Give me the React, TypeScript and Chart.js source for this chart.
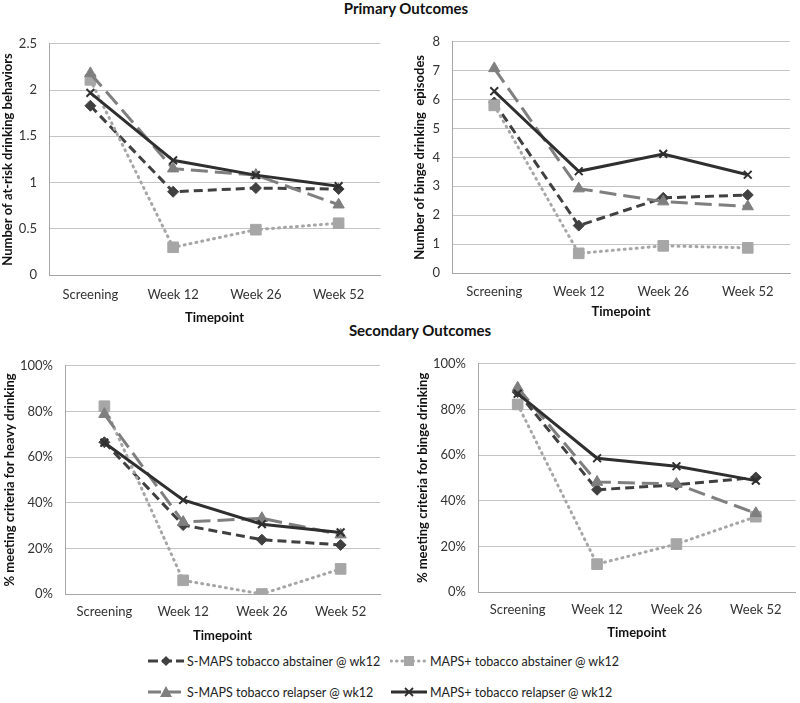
import React, { useEffect, useRef } from "react";
import { Chart, registerables } from "chart.js";
Chart.register(...registerables);

const timepoints = ["Screening", "Week 12", "Week 26", "Week 52"];
const seriesNames = [
  "S-MAPS tobacco abstainer @ wk12",
  "MAPS+ tobacco abstainer @ wk12",
  "S-MAPS tobacco relapser @ wk12",
  "MAPS+ tobacco relapser @ wk12",
];

// Panel 1: Number of at-risk drinking behaviors
const atRiskSmapsAbst = [1.83, 0.9, 0.94, 0.93];
const atRiskMapsAbst = [2.11, 0.3, 0.49, 0.56];
const atRiskSmapsRel = [2.18, 1.15, 1.08, 0.76];
const atRiskMapsRel = [1.97, 1.24, 1.08, 0.96];

// Panel 2: Number of binge drinking episodes
const bingeEpSmapsAbst = [5.9, 1.64, 2.6, 2.7];
const bingeEpMapsAbst = [5.8, 0.68, 0.94, 0.87];
const bingeEpSmapsRel = [7.08, 2.92, 2.47, 2.3];
const bingeEpMapsRel = [6.29, 3.52, 4.12, 3.4];

// Panel 3: % meeting criteria for heavy drinking
const heavySmapsAbst = [66.5, 30.2, 23.8, 21.5];
const heavyMapsAbst = [82.3, 6.0, 0, 11.0];
const heavySmapsRel = [78.8, 31.5, 33.2, 26.0];
const heavyMapsRel = [66.3, 41.2, 30.6, 27.0];

// Panel 4: % meeting criteria for binge drinking
const bingePctSmapsAbst = [87.6, 44.8, 47.0, 50.2];
const bingePctMapsAbst = [82.2, 12.2, 21.0, 33.0];
const bingePctSmapsRel = [89.5, 48.2, 47.3, 34.5];
const bingePctMapsRel = [86.9, 58.6, 55.1, 48.8];

const COLORS = ["#404040", "#a6a6a6", "#7f7f7f", "#2f2f2f"];
const STYLES: any[] = ["rectRot", "rect", "triangle", "crossRot"];
const RADII = [5.5, 7.5, 6.5, 5.5];
const DASHES = [[9, 5], [1, 5], [17, 7], []];
const FONT = "Lato, 'Open Sans', sans-serif";

function Panel(props: any) {
  const ref = useRef<HTMLCanvasElement>(null);
  useEffect(() => {
    const series = props.series as number[][];
    const datasets = series.map((vals, i) => ({
      label: seriesNames[i],
      data: vals,
      borderColor: COLORS[i],
      backgroundColor: COLORS[i],
      pointBackgroundColor: COLORS[i],
      pointBorderColor: COLORS[i],
      pointStyle: STYLES[i],
      pointRadius: RADII[i],
      pointBorderWidth: i === 3 ? 2 : 1,
      borderWidth: 3,
      borderDash: DASHES[i],
      borderCapStyle: i === 1 ? "round" : "butt",
      tension: 0,
      order: 3 - i,
    }));
    const chart = new Chart(ref.current!, {
      type: "line",
      data: { labels: timepoints, datasets },
      options: {
        animation: false,
        responsive: false,
        maintainAspectRatio: false,
        layout: { padding: { top: props.padTop, right: props.padRight, left: 0, bottom: 0 } },
        plugins: { legend: { display: false }, tooltip: { enabled: false } },
        scales: {
          x: {
            offset: true,
            grid: { display: true, drawOnChartArea: false, drawTicks: false },
            border: { display: true, color: "#a6a6a6", width: 1 },
            ticks: { color: "#333", font: { family: FONT, size: 13 }, padding: props.xTickPad, maxRotation: 0 },
            title: {
              display: true,
              text: "Timepoint",
              color: "#111",
              font: { family: FONT, size: 13, weight: "bold" },
              padding: { top: 4, bottom: 2 },
            },
            afterFit: (s: any) => { s.height = props.xAxisHeight; },
          },
          y: {
            min: 0,
            max: props.yMax,
            grid: { color: "#c4c4c4", drawTicks: false, lineWidth: 1 },
            border: { display: true, color: "#a6a6a6", width: 1 },
            ticks: {
              stepSize: props.yStep,
              color: "#333",
              padding: 12,
              font: { family: FONT, size: 13 },
              callback: (v: any) => (props.pct ? v + "%" : String(v)),
            },
            title: {
              display: true,
              text: props.yTitle,
              color: "#111",
              font: { family: FONT, size: 13, weight: "bold" },
              padding: { top: props.yTitlePad, bottom: 0 },
            },
            afterFit: (s: any) => { s.width = props.yAxisWidth; },
          },
        },
      },
    });
    return () => chart.destroy();
  }, []);
  return (
    <canvas
      ref={ref}
      width={props.width}
      height={props.height}
      style={{ position: "absolute", left: props.left, top: props.top, width: props.width, height: props.height }}
    />
  );
}

function LegendIcon({ i }: { i: number }) {
  const c = COLORS[i];
  const cx = 19, cy = 7;
  let marker: any = null;
  if (i === 0) marker = <polygon points={`${cx},${cy - 5} ${cx + 5},${cy} ${cx},${cy + 5} ${cx - 5},${cy}`} fill={c} />;
  if (i === 1) marker = <rect x={cx - 5} y={cy - 5} width={10} height={10} fill={c} />;
  if (i === 2) marker = <polygon points={`${cx},${cy - 6} ${cx + 6},${cy + 5} ${cx - 6},${cy + 5}`} fill={c} />;
  if (i === 3)
    marker = (
      <g stroke={c} strokeWidth={1.8}>
        <line x1={cx - 4} y1={cy - 4} x2={cx + 4} y2={cy + 4} />
        <line x1={cx - 4} y1={cy + 4} x2={cx + 4} y2={cy - 4} />
      </g>
    );
  const dash = i === 0 ? "10,4" : i === 1 ? "0.5,5" : i === 2 ? "13,7" : "none";
  return (
    <svg width={38} height={14} style={{ display: "block" }}>
      <line x1={1} y1={cy} x2={37} y2={cy} stroke={c} strokeWidth={3} strokeDasharray={dash} strokeLinecap={i === 1 ? "round" : "butt"} />
      {marker}
    </svg>
  );
}

export default function App() {
  const legendPos = [
    { x: 147, y: 661 },
    { x: 390, y: 661 },
    { x: 147, y: 692 },
    { x: 390, y: 692 },
  ];
  return (
    <div style={{ position: "fixed", left: 0, top: 0, width: 800, height: 703, background: "#fff", fontFamily: FONT, overflow: "hidden" }}>
      <div style={{ position: "absolute", left: 0, width: 812, top: -1, textAlign: "center", fontWeight: "bold", fontSize: 15, color: "#111" }}>
        Primary Outcomes
      </div>
      <div style={{ position: "absolute", left: 0, width: 840, top: 321, textAlign: "center", fontWeight: "bold", fontSize: 15, color: "#111" }}>
        Secondary Outcomes
      </div>
      <Panel
        left={0} top={24} width={392} height={304} padTop={12} padRight={12}
        yAxisWidth={49} xAxisHeight={53} xTickPad={12} yTitlePad={0}
        yMax={2.5} yStep={0.5} pct={false}
        yTitle="Number of at-risk drinking behaviors"
        series={[atRiskSmapsAbst, atRiskMapsAbst, atRiskSmapsRel, atRiskMapsRel]}
      />
      <Panel
        left={412} top={22} width={388} height={300} padTop={12} padRight={10}
        yAxisWidth={40} xAxisHeight={49} xTickPad={11} yTitlePad={0}
        yMax={8} yStep={1} pct={false}
        yTitle="Number of binge drinking  episodes"
        series={[bingeEpSmapsAbst, bingeEpMapsAbst, bingeEpSmapsRel, bingeEpMapsRel]}
      />
      <Panel
        left={0} top={346} width={392} height={300} padTop={12} padRight={12}
        yAxisWidth={65} xAxisHeight={52} xTickPad={10} yTitlePad={2}
        yMax={100} yStep={20} pct={true}
        yTitle="% meeting criteria for heavy drinking"
        series={[heavySmapsAbst, heavyMapsAbst, heavySmapsRel, heavyMapsRel]}
      />
      <Panel
        left={414} top={344} width={390} height={299} padTop={12} padRight={0}
        yAxisWidth={64} xAxisHeight={51} xTickPad={10} yTitlePad={1}
        yMax={100} yStep={20} pct={true}
        yTitle="% meeting criteria for binge drinking"
        series={[bingePctSmapsAbst, bingePctMapsAbst, bingePctSmapsRel, bingePctMapsRel]}
      />
      {legendPos.map((p, i) => (
        <div key={i} style={{ position: "absolute", left: p.x, top: p.y - 9, height: 18, display: "flex", alignItems: "center", gap: 2, fontSize: 12.5, color: "#222", whiteSpace: "nowrap" }}>
          <LegendIcon i={i} />
          <span>{seriesNames[i]}</span>
        </div>
      ))}
    </div>
  );
}
